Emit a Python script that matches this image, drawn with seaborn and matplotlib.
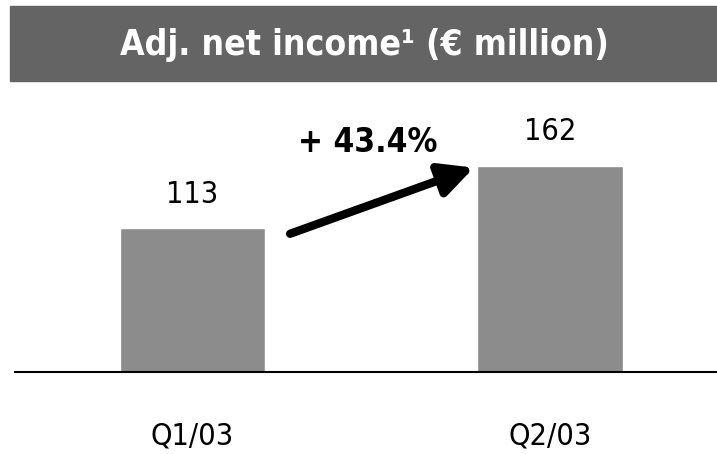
import matplotlib
matplotlib.use("Agg")
import matplotlib.pyplot as plt
from matplotlib.patches import Rectangle
import pandas as pd
import seaborn as sns

# ── Data ───────────────────────────────────────────────────────────────────
quarters = ["Q1/03", "Q2/03"]
net_income = [113, 162]

BAR_GRAY = "#8c8c8c"
BAND_GRAY = "#646464"

sns.set_style("white")
plt.rcParams["font.family"] = ["DejaVu Sans"]
plt.rcParams["font.stretch"] = "condensed"
plt.rcParams["text.color"] = "black"
plt.rcParams["xtick.color"] = "black"

df = pd.DataFrame({"quarter": quarters, "value": net_income})

fig = plt.figure(figsize=(7.17, 4.54), dpi=100)
ax = fig.add_axes([15 / 717, 82 / 454, 702 / 717, 290 / 454])

bar_w = 0.406
sns.barplot(data=df, x="quarter", y="value", color=BAR_GRAY, width=bar_w,
            saturation=1, ax=ax)

ax.set_xlim(-0.4965, 1.467)
ax.set_ylim(0, 227.6)
for s in ["top", "right", "left"]:
    ax.spines[s].set_visible(False)
ax.spines["bottom"].set_color("black")
ax.spines["bottom"].set_linewidth(1.5)
ax.set_yticks([])
ax.set_xlabel("")
ax.set_ylabel("")
ax.tick_params(axis="x", length=0, pad=36, labelsize=22)

# value labels
for i, v in enumerate(net_income):
    ax.text(i, v + 15, f"{v}", ha="center", va="bottom", fontsize=22)

# growth arrow + label
growth = (net_income[1] / net_income[0] - 1) * 100
ax.annotate("", xy=(1 - bar_w / 2 - 0.01, net_income[1] * 0.99),
            xytext=(bar_w / 2 + 0.07, net_income[0] * 0.96),
            arrowprops=dict(arrowstyle="-|>", color="black", lw=6,
                            mutation_scale=50, shrinkA=0, shrinkB=0))
ax.text(0.49, 180, f"+ {growth:.1f}%", ha="center", va="center",
        fontsize=24, fontweight="bold")

# title band
fig.patches.append(Rectangle((10 / 717, 1 - 81 / 454), 707 / 717, 75 / 454,
                             transform=fig.transFigure, color=BAND_GRAY,
                             zorder=0))
fig.text(364 / 717, 1 - 45 / 454, "Adj. net income¹ (€ million)",
         ha="center", va="center", color="white", fontsize=25.5,
         fontweight="bold")

fig.savefig("out.png", dpi=100)
